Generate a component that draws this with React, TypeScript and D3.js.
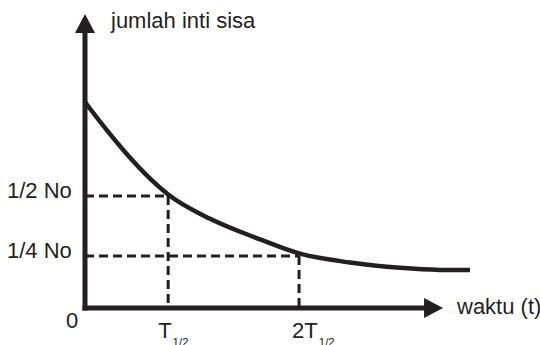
import React from "react";
import * as d3 from "d3";

// Decay curve (time in arbitrary units, remaining nuclei in arbitrary units, No = 100)
const curveT = [0, 0.52, 1.09, 1.69, 2.16, 3.25, 4.55, 5.56, 6.88, 8.18, 9.22, 10.0];
const curveN = [100, 87.4, 74.6, 62.8, 55.1, 43.3, 33.3, 26.5, 22.1, 19.5, 18.5, 18.4];

// Reference levels and times
const levelLabels = ["1/2 No", "1/4 No"];
const levelValues = [54.4, 25.2];
const timeLabels = ["T", "2T"];
const timeValues = [2.16, 5.56];
const timeSub = "1/2";

const xAxisMax = 9.3;
const yAxisMax = 142.7;

const yTitle = "jumlah inti sisa";
const xTitle = "waktu (t)";
const originLabel = "0";

const W = 540;
const H = 345;
const INK = "#231f20";
const FONT = "'Liberation Sans', Arial, sans-serif";

export default function App() {
  const x = d3.scaleLinear().domain([0, 10]).range([85, 470]);
  const y = d3.scaleLinear().domain([0, 100]).range([308, 102]);

  const pts: [number, number][] = curveT.map((t, i) => [x(t), y(curveN[i])]);
  const line = d3.line().curve(d3.curveMonotoneX)(pts) || "";

  const x0 = x(0);
  const y0 = y(0);
  const xEnd = x(xAxisMax);
  const yEnd = y(yAxisMax);
  const ah = 19; // arrow length
  const aw = 10; // half width
  const labelOffsets = [-10, -7];

  return (
    <svg
      width={W}
      height={H}
      style={{ position: "absolute", left: 0, top: 0, background: "#fff" }}
      fontFamily={FONT}
    >
      <rect width={W} height={H} fill="#fff" />
      {/* dashed guides */}
      {levelValues.map((v, i) => (
        <g key={i}>
          <line
            x1={x0}
            x2={x(timeValues[i])}
            y1={y(v)}
            y2={y(v)}
            stroke={INK}
            strokeWidth={3}
            strokeDasharray="9,5"
          />
          <line
            x1={x(timeValues[i])}
            x2={x(timeValues[i])}
            y1={y(v)}
            y2={y0}
            stroke={INK}
            strokeWidth={3}
            strokeDasharray="9,5"
          />
        </g>
      ))}
      {/* curve */}
      <path d={line} fill="none" stroke={INK} strokeWidth={4.5} />
      {/* axes */}
      <line x1={x0} x2={x0} y1={y0 + 2.5} y2={yEnd + ah - 1} stroke={INK} strokeWidth={5} />
      <line x1={x0 - 2.5} x2={xEnd - ah + 1} y1={y0} y2={y0} stroke={INK} strokeWidth={5} />
      <path
        d={`M${x0},${yEnd} L${x0 + aw},${yEnd + ah} L${x0 - aw},${yEnd + ah} Z`}
        fill={INK}
      />
      <path
        d={`M${xEnd},${y0} L${xEnd - ah},${y0 - aw} L${xEnd - ah},${y0 + aw} Z`}
        fill={INK}
      />
      {/* texts */}
      <g fill={INK} fontSize={22}>
        <text x={111} y={28}>{yTitle}</text>
        <text x={457} y={314}>{xTitle}</text>
        <text x={66} y={328}>{originLabel}</text>
        {levelLabels.map((l, i) => (
          <text key={l} x={7} y={y(levelValues[i]) + 2}>{l}</text>
        ))}
        {timeLabels.map((l, i) => (
          <text key={l} x={x(timeValues[i]) + labelOffsets[i]} y={338}>
            {l}
            <tspan fontSize={11.5} dx={1} dy={8}>{timeSub}</tspan>
          </text>
        ))}
      </g>
    </svg>
  );
}
